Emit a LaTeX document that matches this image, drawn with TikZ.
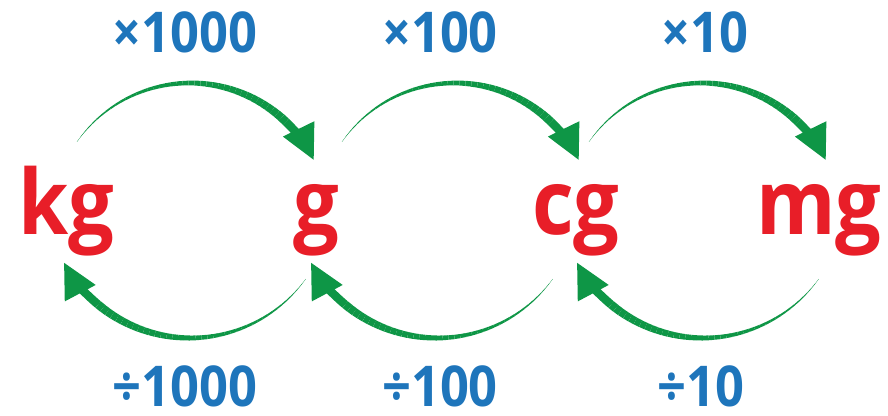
\documentclass[tikz,border=0pt]{standalone}
\usepackage{fontspec}
\setmainfont{Open Sans}[FakeStretch=0.9]
\usetikzlibrary{arrows.meta, calc}
\definecolor{unitred}{RGB}{232,30,40}
\definecolor{factorblue}{RGB}{30,117,187}
\definecolor{arcgreen}{RGB}{14,150,70}

% tapered arc: centre, radius, thin angle, thick angle, tip angle
\newcommand{\taperarc}[5]{%
  \foreach \i in {1,...,40}{
    \pgfmathsetmacro{\angA}{#3+((#4)-(#3))*(\i-1)/40}
    \pgfmathsetmacro{\angB}{#3+((#4)-(#3))*\i/40}
    \draw[arcbody, line width=\i*0.15pt] ($(#1)+(\angA:#2)$) arc[start angle=\angA, end angle=\angB, radius=#2];
  }
  \draw[archead] ($(#1)+(#4:#2)$) arc[start angle=#4, end angle=#5, radius=#2];
}

\begin{document}
\begin{tikzpicture}[
  x=0.025cm, y=0.025cm,
  unit/.style={font=\fontsize{64}{64}\selectfont\bfseries, text=unitred, anchor=base, inner sep=0pt},
  factor/.style={font=\fontsize{40}{40}\selectfont\bfseries, text=factorblue, anchor=base, inner sep=0pt},
  arcbody/.style={draw=arcgreen},
  archead/.style={draw=arcgreen, line width=6pt, -{Triangle[length=25pt, width=23pt]}},
]
  \useasboundingbox (0,0) rectangle (888,415);

  % units
  \node[unit] (kg) at (66,180) {kg};
  \node[unit] (g) at (316,180) {g};
  \node[unit] (cg) at (576,180) {cg};
  \node[unit] (mg) at (819,180) {mg};

  % multiply labels
  \node[factor] (mul1000) at (185,362) {×1000};
  \node[factor] (mul100) at (440,362) {×100};
  \node[factor] (mul10) at (705,362) {×10};

  % divide labels
  \node[factor] (div1000) at (185,9) {÷1000};
  \node[factor] (div100) at (440,9) {÷100};
  \node[factor] (div10) at (701,9) {÷10};

  % arc centres
  \coordinate (top1) at (190,194);
  \coordinate (top2) at (455,194);
  \coordinate (top3) at (702,194);
  \coordinate (bot1) at (190,220);
  \coordinate (bot2) at (437,220);
  \coordinate (bot3) at (703,220);

  % top arrows, left to right
  \taperarc{top1}{138}{145}{46}{26}
  \taperarc{top2}{138}{145}{46}{26}
  \taperarc{top3}{138}{145}{46}{26}

  % bottom arrows, right to left
  \taperarc{bot1}{143}{-36}{-130}{-152}
  \taperarc{bot2}{143}{-36}{-130}{-152}
  \taperarc{bot3}{143}{-36}{-130}{-152}
\end{tikzpicture}
\end{document}
